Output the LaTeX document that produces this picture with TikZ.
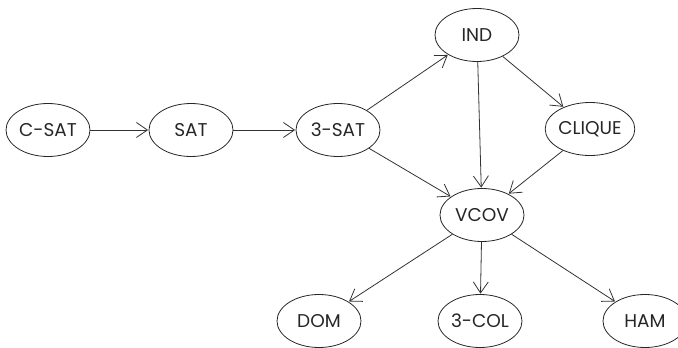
\documentclass[tikz,border=0pt]{standalone}
\usepackage{fontspec}
\setmainfont{Poppins}
\usetikzlibrary{arrows.meta,shapes.geometric}
\begin{document}
\begin{tikzpicture}[x=1pt,y=-1pt,
  prob/.style={draw=black!85, line width=0.8pt, ellipse, minimum width=84pt, minimum height=53pt, inner sep=0pt, font=\fontsize{18.5}{18.5}\selectfont, text=black!85},
  reduce/.style={draw=black!80, line width=0.8pt, -{Straight Barb[length=11pt,width=15pt,line width=0.8pt]}, shorten >=0.5pt},
]
\useasboundingbox (0,0) rectangle (678,348);
\node[prob] (csat) at (48,130) {C-SAT};
\node[prob] (sat) at (191,130) {SAT};
\node[prob] (tsat) at (338,130) {3-SAT};
\node[prob] (ind) at (477,35) {IND};
\node[prob] (clique) at (590,129) {CLIQUE};
\node[prob] (vcov) at (482,215) {VCOV};
\node[prob] (dom) at (319,321) {DOM};
\node[prob] (tcol) at (480,321) {3-COL};
\node[prob] (ham) at (645,321) {HAM};
\draw[reduce] (csat) -- (sat);
\draw[reduce] (sat) -- (tsat);
\draw[reduce] (tsat) -- (ind);
\draw[reduce] (tsat) -- (vcov);
\draw[reduce] (ind) -- (vcov);
\draw[reduce] (ind) -- (clique);
\draw[reduce] (clique) -- (vcov);
\draw[reduce] (vcov) -- (dom);
\draw[reduce] (vcov) -- (tcol);
\draw[reduce] (vcov) -- (ham);
\end{tikzpicture}
\end{document}
